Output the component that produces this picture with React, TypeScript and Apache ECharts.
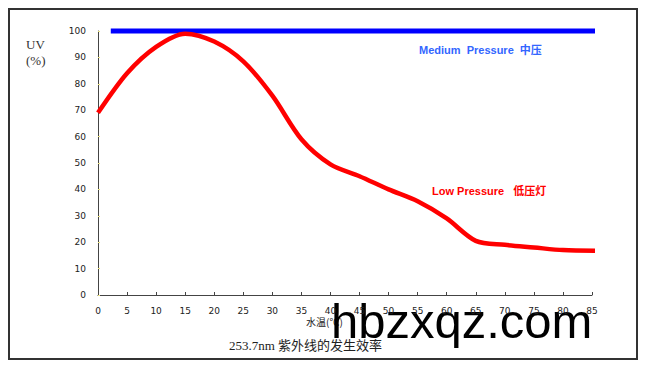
import React, { useEffect, useRef } from "react";
import * as echarts from "echarts";

const temps = [0, 5, 10, 15, 20, 25, 30, 35, 40, 45, 50, 55, 60, 65, 70, 75, 80, 85.8];
const lowPressure = [69, 84, 94, 99, 96, 88.5, 75.5, 59, 49.5, 45, 40, 35.5, 29, 20.5, 19, 18, 17, 16.8];
const mediumX = [2.2, 86.5];
const mediumPressure = [100, 100];

export default function App() {
  const ref = useRef<HTMLDivElement>(null);
  useEffect(() => {
    const chart = echarts.init(ref.current!, null, { renderer: "svg" });
    const tickFont = { fontFamily: "DejaVu Sans", fontSize: 9, color: "#222" };
    chart.setOption({
      animation: false,
      backgroundColor: "#fff",
      grid: { left: 98, right: 60, top: 31, bottom: 73 },
      xAxis: {
        type: "value",
        min: 0,
        max: 85,
        interval: 5,
        splitLine: { show: false },
        axisLine: { lineStyle: { color: "#444", width: 1 } },
        axisTick: { inside: true, length: 3, lineStyle: { color: "#444" } },
        axisLabel: { ...tickFont, margin: 11 },
      },
      yAxis: {
        type: "value",
        min: 0,
        max: 100,
        interval: 10,
        splitLine: { show: false },
        axisLine: { show: true, lineStyle: { color: "#444", width: 1 } },
        axisTick: { show: true, inside: true, length: 2, lineStyle: { color: "#e8e080" } },
        axisLabel: { ...tickFont, margin: 12 },
      },
      series: [
        {
          type: "line",
          data: mediumX.map((x, i) => [x, mediumPressure[i]]),
          showSymbol: false,
          clip: false,
          lineStyle: { color: "#0000ff", width: 5 },
        },
        {
          type: "line",
          data: temps.map((x, i) => [x, lowPressure[i]]),
          showSymbol: false,
          smooth: 0.3,
          clip: false,
          lineStyle: { color: "#ff0000", width: 4.5 },
        },
      ],
      graphic: [
        {
          type: "rect",
          shape: { x: 9, y: 9, width: 628, height: 350 },
          style: { fill: "none", stroke: "#333", lineWidth: 2 },
          silent: true,
        },
        {
          type: "text",
          x: 26,
          y: 38,
          style: { text: "UV", font: "13px 'Liberation Serif'", fill: "#333" },
        },
        {
          type: "text",
          x: 26,
          y: 54,
          style: { text: "(%)", font: "13px 'Liberation Serif'", fill: "#333" },
        },
        {
          type: "text",
          x: 419,
          y: 44,
          style: {
            text: "Medium  Pressure  中压",
            font: "bold 11px 'Liberation Sans', 'Noto Sans CJK SC'",
            fill: "#3366ff",
          },
        },
        {
          type: "text",
          x: 432,
          y: 185,
          style: {
            text: "Low Pressure   低压灯",
            font: "bold 11px 'Liberation Sans', 'Noto Sans CJK SC'",
            fill: "#ff0000",
          },
        },
        {
          type: "text",
          x: 306,
          y: 316,
          style: { text: "水温(℃)", font: "10px 'Noto Sans CJK SC'", fill: "#222" },
        },
        {
          type: "text",
          x: 229,
          y: 339,
          style: {
            text: "253.7nm 紫外线的发生效率",
            font: "13px 'Liberation Serif', 'Noto Sans CJK SC'",
            fill: "#222",
          },
        },
        {
          type: "text",
          x: 331,
          y: 296,
          style: { text: "hbzxqz.com", font: "49px 'Liberation Sans'", fill: "#000" },
        },
      ],
    });
    return () => chart.dispose();
  }, []);
  return (
    <div
      ref={ref}
      style={{ position: "fixed", left: 0, top: 0, width: 652, height: 368 }}
    />
  );
}
